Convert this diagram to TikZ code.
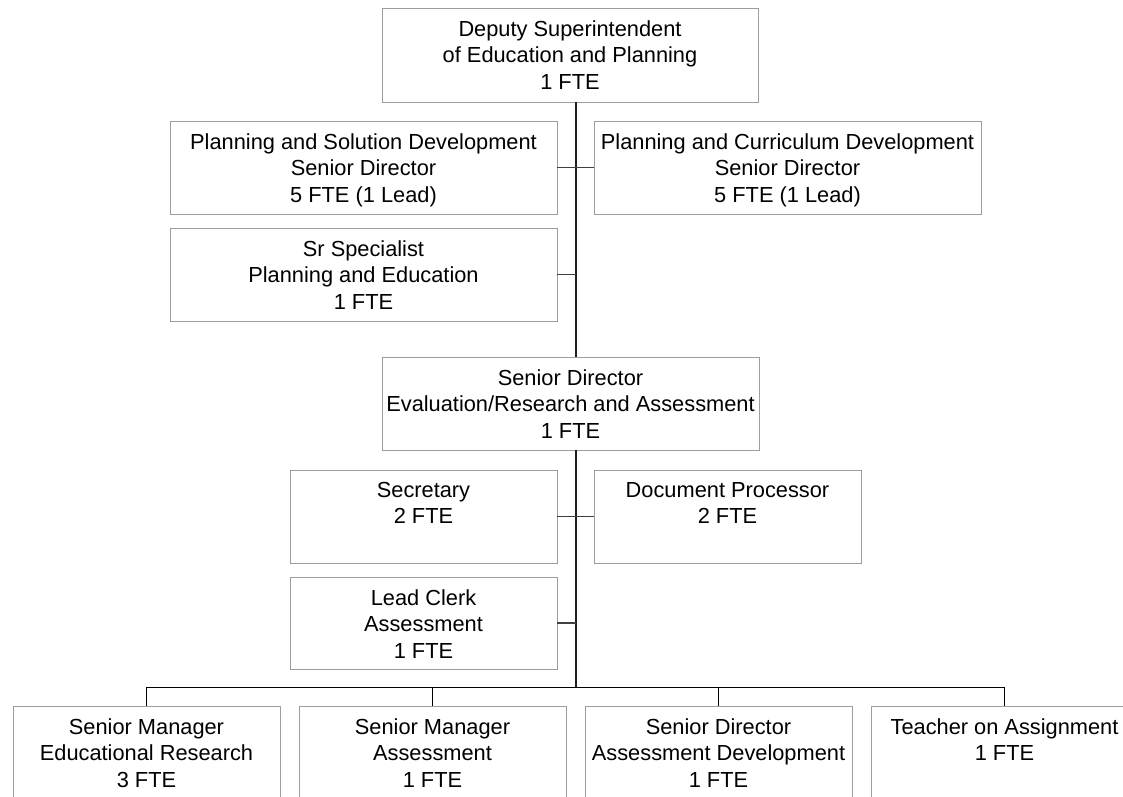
\documentclass[tikz,border=0pt]{standalone}
\usepackage{fontspec}
\setmainfont{Liberation Sans}
\newcommand\orgbox[6]{%
  \node[box, minimum width={(#4-#2)*1pt}, minimum height={(#5-#3)*1pt}] (#1) at (#2,#3) {};
  \node[txt] (#1t) at ([yshift=-12pt]#1.north) {#6};}
\begin{document}
\begin{tikzpicture}[x=1pt,y=-1pt,
  box/.style={draw=black!38, line width=1pt, fill=white, inner sep=0pt, outer sep=0pt, anchor=north west},
  txt/.style={font=\fontsize{21.8}{26.5}\selectfont, align=center, inner sep=0pt, anchor=north, text=black},
  trunk/.style={draw=black!88, line width=1.6pt},
  link/.style={draw=black!75, line width=1.2pt},
  busline/.style={draw=black, line width=1pt}]
\useasboundingbox (0,0) rectangle (1123,796);
\clip (0,0) rectangle (1123,796);
\fill[white] (0,0) rectangle (1123,796);
\coordinate (trx) at (576,0);
\coordinate (bus) at (576,687);
% boxes
\orgbox{top}{382}{8}{758}{102}{Deputy Superintendent\\of Education and Planning\\1 FTE}
\orgbox{psd}{170}{121}{557}{214}{Planning and Solution Development\\Senior Director\\5 FTE (1 Lead)}
\orgbox{pcd}{594}{121}{981}{214}{Planning and Curriculum Development\\Senior Director\\5 FTE (1 Lead)}
\orgbox{srs}{170}{228}{557}{321}{Sr Specialist\\Planning and Education\\1 FTE}
\orgbox{sde}{382}{357}{759}{450}{Senior Director\\Evaluation/Research and Assessment\\1 FTE}
\orgbox{sec}{290}{470}{557}{563}{Secretary\\2 FTE}
\orgbox{dp}{594}{470}{861}{563}{Document Processor\\2 FTE}
\orgbox{lc}{290}{577}{557}{669}{Lead Clerk\\Assessment\\1 FTE}
\orgbox{b1}{13}{706}{280}{830}{Senior Manager\\Educational Research\\3 FTE}
\orgbox{b2}{299}{706}{566}{830}{Senior Manager\\Assessment\\1 FTE}
\orgbox{b3}{585}{706}{852}{830}{Senior Director\\Assessment Development\\1 FTE}
\orgbox{b4}{871}{706}{1138}{830}{Teacher on Assignment\\1 FTE}
% trunk
\draw[trunk] (top.south -| trx) -- (sde.north -| trx);
\draw[trunk] (sde.south -| trx) -- (bus);
% side links
\draw[link] (psd.east) -- (pcd.west);
\draw[link] (srs.east) -- (srs.east -| trx);
\draw[link] (sec.east) -- (dp.west);
\draw[link] (lc.east) -- (lc.east -| trx);
% bus
\draw[busline] (b1.north) |- (bus) -| (b4.north);
\draw[busline] (b2.north) -- (b2.north |- bus);
\draw[busline] (b3.north) -- (b3.north |- bus);
\end{tikzpicture}
\end{document}
